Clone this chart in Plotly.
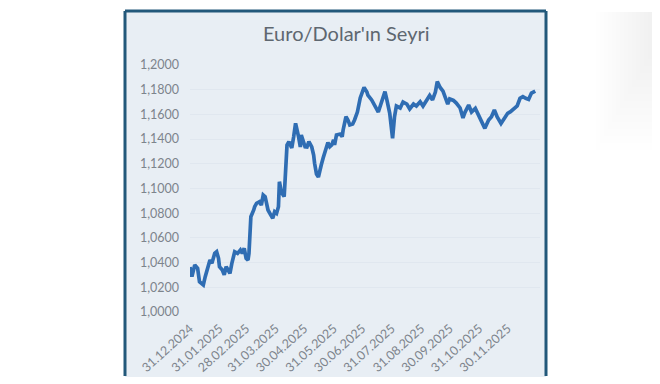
import plotly.graph_objects as go

dates = [
    "2024-12-31", "2025-01-02", "2025-01-05", "2025-01-08", "2025-01-10", "2025-01-14", "2025-01-16",
    "2025-01-19", "2025-01-21", "2025-01-23", "2025-01-26", "2025-01-28", "2025-01-30", "2025-01-31",
    "2025-02-03", "2025-02-05", "2025-02-07", "2025-02-09", "2025-02-11", "2025-02-13", "2025-02-15",
    "2025-02-16", "2025-02-19", "2025-02-22", "2025-02-24", "2025-02-26", "2025-02-28", "2025-03-02",
    "2025-03-03", "2025-03-05", "2025-03-08", "2025-03-09", "2025-03-11", "2025-03-14", "2025-03-16",
    "2025-03-18", "2025-03-20", "2025-03-22", "2025-03-23", "2025-03-26", "2025-03-28", "2025-03-30",
    "2025-04-01", "2025-04-03", "2025-04-04", "2025-04-06", "2025-04-09", "2025-04-10", "2025-04-12",
    "2025-04-14", "2025-04-17", "2025-04-19", "2025-04-21", "2025-04-24", "2025-04-26", "2025-04-27",
    "2025-04-29", "2025-05-01", "2025-05-03", "2025-05-05", "2025-05-08", "2025-05-10", "2025-05-11",
    "2025-05-13", "2025-05-15", "2025-05-17", "2025-05-18", "2025-05-20", "2025-05-23", "2025-05-25",
    "2025-05-27", "2025-05-29", "2025-05-31", "2025-06-01", "2025-06-03", "2025-06-07", "2025-06-09",
    "2025-06-10", "2025-06-13", "2025-06-15", "2025-06-17", "2025-06-20", "2025-06-22", "2025-06-25",
    "2025-06-28", "2025-07-01", "2025-07-02", "2025-07-05", "2025-07-06", "2025-07-10", "2025-07-14",
    "2025-07-17", "2025-07-20", "2025-07-24", "2025-07-26", "2025-07-29", "2025-08-01", "2025-08-03",
    "2025-08-05", "2025-08-09", "2025-08-12", "2025-08-16", "2025-08-19", "2025-08-23", "2025-08-26",
    "2025-08-30", "2025-09-02", "2025-09-06", "2025-09-09", "2025-09-12", "2025-09-15", "2025-09-17",
    "2025-09-20", "2025-09-23", "2025-09-25", "2025-09-28", "2025-09-30", "2025-10-04", "2025-10-07",
    "2025-10-11", "2025-10-14", "2025-10-16", "2025-10-20", "2025-10-23", "2025-10-27", "2025-10-30",
    "2025-11-03", "2025-11-06", "2025-11-10", "2025-11-13", "2025-11-16", "2025-11-19", "2025-11-23",
    "2025-11-26", "2025-11-30", "2025-12-03", "2025-12-07", "2025-12-10", "2025-12-13", "2025-12-16",
    "2025-12-19", "2025-12-22", "2025-12-25", "2025-12-27", "2025-12-29",
]

rates = [
    1.0364, 1.0286, 1.0381, 1.0354, 1.0245, 1.0219, 1.0286,
    1.0367, 1.0421, 1.0394, 1.0475, 1.0488, 1.0435, 1.0367,
    1.0340, 1.0300, 1.0367, 1.0340, 1.0313, 1.0394, 1.0462,
    1.0488, 1.0475, 1.0502, 1.0475, 1.0516, 1.0435, 1.0421,
    1.0475, 1.0772, 1.0826, 1.0853, 1.0880, 1.0893, 1.0866,
    1.0947, 1.0934, 1.0880, 1.0826, 1.0785, 1.0759, 1.0812,
    1.0799, 1.0853, 1.1055, 1.0972, 1.0934, 1.1069, 1.1352,
    1.1379, 1.1328, 1.1419, 1.1528, 1.1425, 1.1336, 1.1433,
    1.1393, 1.1338, 1.1336, 1.1379, 1.1336, 1.1271, 1.1204,
    1.1117, 1.1093, 1.1174, 1.1190, 1.1247, 1.1326, 1.1372,
    1.1338, 1.1352, 1.1393, 1.1352, 1.1433, 1.1441, 1.1419,
    1.1474, 1.1581, 1.1555, 1.1514, 1.1522, 1.1555, 1.1619,
    1.1733, 1.1806, 1.1818, 1.1781, 1.1757, 1.1717, 1.1668,
    1.1619, 1.1690, 1.1784, 1.1717, 1.1609, 1.1406, 1.1579,
    1.1668, 1.1652, 1.1700, 1.1684, 1.1644, 1.1684, 1.1668,
    1.1703, 1.1668, 1.1725, 1.1753, 1.1717, 1.1781, 1.1865,
    1.1818, 1.1789, 1.1741, 1.1684, 1.1725, 1.1713, 1.1692,
    1.1652, 1.1571, 1.1615, 1.1676, 1.1619, 1.1649, 1.1603,
    1.1547, 1.1487, 1.1555, 1.1581, 1.1636, 1.1579, 1.1526,
    1.1563, 1.1609, 1.1622, 1.1649, 1.1668, 1.1730, 1.1743,
    1.1730, 1.1721, 1.1773, 1.1784, 1.1789,
]

tick_dates = [
    "2024-12-31", "2025-01-31", "2025-02-28", "2025-03-31", "2025-04-30", "2025-05-31",
    "2025-06-30", "2025-07-31", "2025-08-31", "2025-09-30", "2025-10-31", "2025-11-30",
]
tick_labels = [
    "31.12.2024", "31.01.2025", "28.02.2025", "31.03.2025", "30.04.2025", "31.05.2025",
    "30.06.2025", "31.07.2025", "31.08.2025", "30.09.2025", "31.10.2025", "30.11.2025",
]
y_ticks = [1.00, 1.02, 1.04, 1.06, 1.08, 1.10, 1.12, 1.14, 1.16, 1.18, 1.20]

title_text = "Euro/Dolar'ın Seyri"

W, H = 660, 384
OFF = 8  # page body margin in the browser


def px(x):
    return (x - OFF) / W


def py(y):
    return 1 - (y - OFF) / H


FONT = "Lato"
LABEL_COLOR = "#7d848c"
FRAME = "#22587a"

fig = go.Figure(
    go.Scatter(
        x=dates, y=rates, mode="lines",
        line=dict(color="#2f6db3", width=3.7),
        hoverinfo="skip", showlegend=False,
    )
)

# soft grey shading in the top-right corner of the photo
shade = []
for i in range(16):
    shade.append(dict(type="rect", xref="paper", yref="paper",
                      x0=px(596 + i * 4), x1=px(668), y0=py(150 - i * 7), y1=py(12),
                      fillcolor="rgba(150,150,165,0.012)", line=dict(width=0), layer="below"))

fig.update_layout(
    width=W, height=H,
    margin=dict(l=0, r=0, t=0, b=0, pad=0, autoexpand=False),
    paper_bgcolor="white",
    plot_bgcolor="rgba(0,0,0,0)",
    separators=",.",
    font=dict(family=FONT, size=12, color=LABEL_COLOR),
    xaxis=dict(
        type="date", automargin=False,
        domain=[px(190), px(540)],
        range=["2024-12-31", "2026-01-03"],
        tickmode="array", tickvals=tick_dates, ticktext=tick_labels,
        tickangle=-42, showgrid=False, zeroline=False, showline=False,
        ticks="", ticklabelstandoff=6,
        tickfont=dict(family=FONT, size=12.5, color=LABEL_COLOR),
    ),
    yaxis=dict(
        automargin=False,
        domain=[py(312), py(65)],
        range=[1.0, 1.2],
        tickmode="array", tickvals=y_ticks, tickformat=".4f",
        showgrid=True, gridcolor="#e0e7ef", gridwidth=1,
        zeroline=False, showline=False, ticks="", ticklabelstandoff=10,
        tickfont=dict(family=FONT, size=12.5, color=LABEL_COLOR),
    ),
    shapes=shade + [
        dict(type="rect", xref="paper", yref="paper",
             x0=px(125), x1=px(546), y0=py(377), y1=py(11),
             fillcolor="#e8eef4", line=dict(width=0), layer="below"),
        dict(type="line", xref="paper", yref="paper",
             x0=px(125), x1=px(125), y0=py(376), y1=py(11),
             line=dict(color=FRAME, width=3)),
        dict(type="line", xref="paper", yref="paper",
             x0=px(125), x1=px(546), y0=py(11), y1=py(11),
             line=dict(color=FRAME, width=3)),
        dict(type="line", xref="paper", yref="paper",
             x0=px(546), x1=px(546), y0=py(376), y1=py(11),
             line=dict(color=FRAME, width=3)),
    ],
    annotations=[
        dict(text=title_text, xref="paper", yref="paper",
             x=px(346), y=py(33), xanchor="center", yanchor="middle",
             showarrow=False, font=dict(family=FONT, size=20, color="#5e6770")),
    ],
)

fig.write_html("out.html")
